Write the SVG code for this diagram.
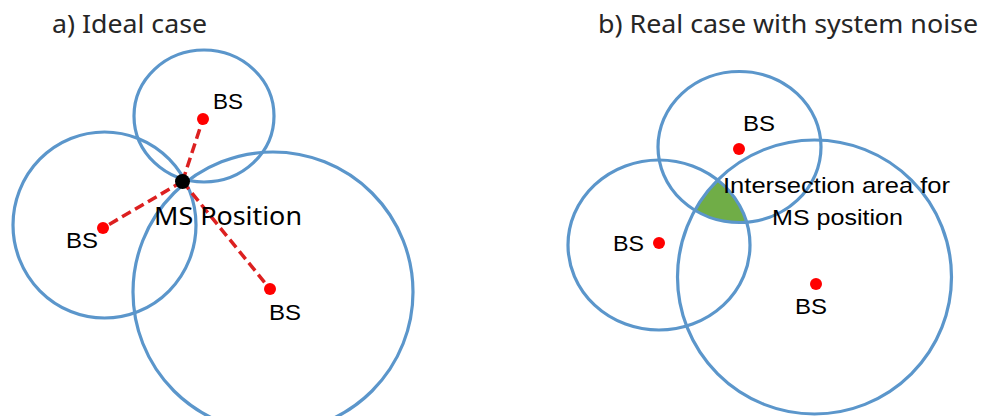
<svg xmlns="http://www.w3.org/2000/svg" width="983" height="416" viewBox="0 0 983 416">
<style>
.ring{fill:none;stroke:#5b96cb;stroke-width:3.2}
.bs{fill:#ff0000}
.lbl{font-family:"Liberation Sans",Arial,sans-serif;font-size:22.5px;fill:#000}
.ttl{font-family:"Noto Sans","Open Sans",sans-serif;font-size:25px;fill:#262626}
.ms{font-family:"Noto Sans","Open Sans",sans-serif;font-size:24.5px;fill:#000}
.dash{stroke:#dc2020;stroke-width:3.5;stroke-dasharray:10 5;fill:none}
</style>
<defs>
<clipPath id="clipTopB"><ellipse cx="739.5" cy="147" rx="81.5" ry="75.5"/></clipPath>
<clipPath id="clipBigB"><circle cx="814.5" cy="277" r="137"/></clipPath>
</defs>
<rect width="983" height="416" fill="#fff"/>
<text class="ttl" x="52" y="33" textLength="155" lengthAdjust="spacingAndGlyphs">a) Ideal case</text>
<text class="ttl" x="598" y="33" textLength="380" lengthAdjust="spacingAndGlyphs">b) Real case with system noise</text>

<g id="area-b" clip-path="url(#clipTopB)">
<ellipse cx="659" cy="245" rx="91" ry="85" fill="#70ad47" clip-path="url(#clipBigB)"/>
</g>

<g id="range-a-top"><ellipse class="ring" cx="204" cy="116" rx="70" ry="66"/></g>
<g id="range-a-left"><ellipse class="ring" cx="104.5" cy="225" rx="91.5" ry="93"/></g>
<g id="range-a-big"><circle class="ring" cx="273" cy="292" r="140"/></g>
<g id="range-b-top"><ellipse class="ring" cx="739.5" cy="147" rx="81.5" ry="75.5"/></g>
<g id="range-b-left"><ellipse class="ring" cx="659" cy="245" rx="91" ry="85"/></g>
<g id="range-b-big"><circle class="ring" cx="814.5" cy="277" r="137"/></g>

<g id="connectors">
<line class="dash" x1="182.5" y1="181.5" x2="203" y2="119"/>
<line class="dash" x1="182.5" y1="181.5" x2="103" y2="228"/>
<line class="dash" x1="182.5" y1="181.5" x2="270" y2="289"/>
</g>

<g id="bs-a-top"><circle class="bs" cx="203" cy="119" r="6"/><text class="lbl" x="213" y="109" textLength="30" lengthAdjust="spacingAndGlyphs">BS</text></g>
<g id="bs-a-left"><circle class="bs" cx="103" cy="228" r="6"/><text class="lbl" x="66" y="248" textLength="32" lengthAdjust="spacingAndGlyphs">BS</text></g>
<g id="bs-a-big"><circle class="bs" cx="270" cy="289" r="6"/><text class="lbl" x="269" y="320" textLength="32" lengthAdjust="spacingAndGlyphs">BS</text></g>
<g id="ms-a"><circle cx="182.5" cy="181.5" r="7.5" fill="#000"/><text class="ms" x="154" y="225" textLength="148" lengthAdjust="spacingAndGlyphs">MS Position</text></g>

<g id="bs-b-top"><circle class="bs" cx="739" cy="149" r="6"/><text class="lbl" x="743" y="131" textLength="32" lengthAdjust="spacingAndGlyphs">BS</text></g>
<g id="bs-b-left"><circle class="bs" cx="659" cy="243" r="6"/><text class="lbl" x="613" y="251" textLength="31" lengthAdjust="spacingAndGlyphs">BS</text></g>
<g id="bs-b-big"><circle class="bs" cx="816" cy="284" r="6"/><text class="lbl" x="795" y="314" textLength="32" lengthAdjust="spacingAndGlyphs">BS</text></g>
<g id="label-area"><text class="lbl" x="723" y="193" textLength="227" lengthAdjust="spacingAndGlyphs">Intersection area for</text><text class="lbl" x="772" y="225" textLength="131" lengthAdjust="spacingAndGlyphs">MS position</text></g>
</svg>
